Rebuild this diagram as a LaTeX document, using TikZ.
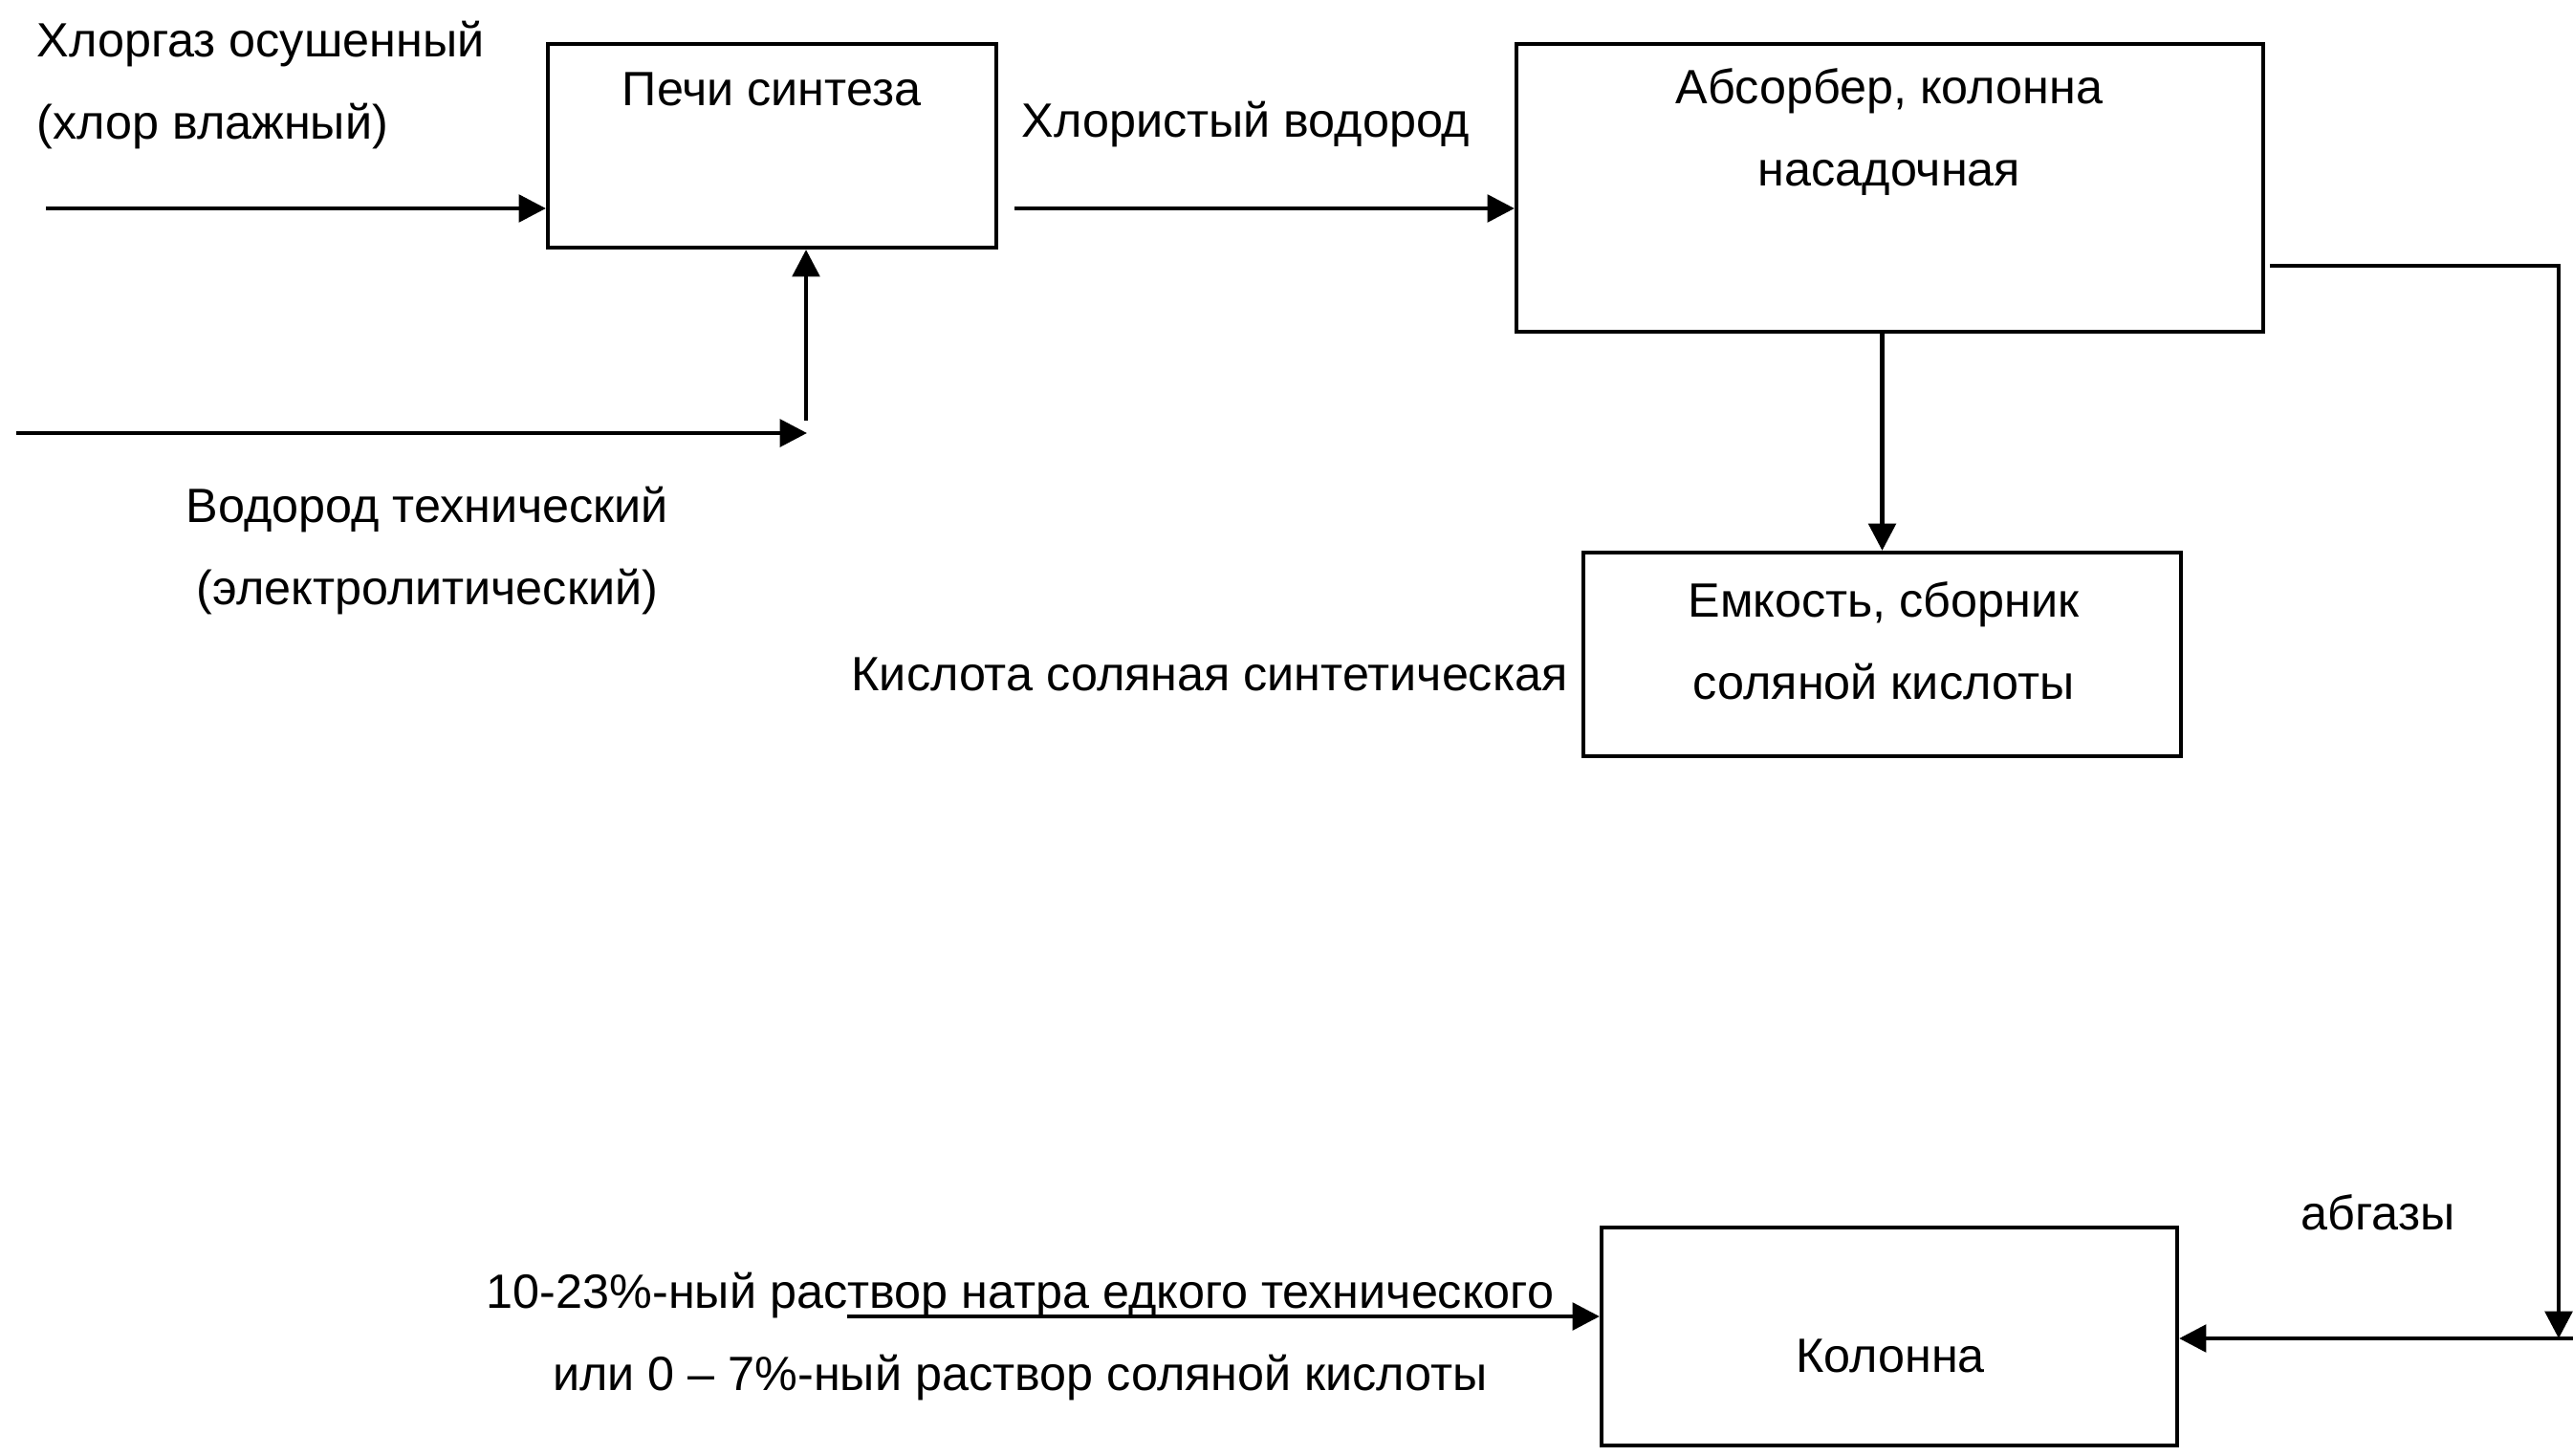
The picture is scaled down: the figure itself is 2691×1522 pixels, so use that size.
\documentclass[tikz,border=0pt]{standalone}
\usepackage{fontspec}
\setmainfont{Liberation Sans}
\usetikzlibrary{arrows.meta,fit}
\begin{document}
\begin{tikzpicture}[x=0.3pt,y=-0.3pt,
  box/.style={draw,line width=1.25pt,inner sep=0pt},
  lbl/.style={font=\fontsize{15.1}{25.8}\selectfont,inner sep=0pt},
  arr/.style={line width=1.4pt,-{Triangle[length=8.5pt,width=8.5pt]}},
  ln/.style={line width=1.4pt}]
\useasboundingbox[fill=white] (0,0) rectangle (2691,1522);
% boxes
\node[box,fit={(573,46) (1042,259)}] (pechi) {};
\node[box,fit={(1586,46) (2367,347)}] (abs) {};
\node[box,fit={(1656,578) (2281,791)}] (emk) {};
\node[box,fit={(1675,1284) (2277,1512)}] (kol) {};
% box texts
\node[lbl] (pechiT) at (807,93) {Печи синтеза};
\node[lbl,align=center] (absT) at (1976,138) {Абсорбер, колонна\\насадочная};
\node[lbl,align=center] (emkT) at (1970,670) {Емкость, сборник\\соляной кислоты};
\node[lbl] (kolT) at (1977,1418) {Колонна};
% free texts
\node[lbl,align=left,anchor=west] (chlorT) at (38,89) {Хлоргаз осушенный\\(хлор влажный)};
\node[lbl,align=center] (hydT) at (447,576) {Водород технический\\(электролитический)};
\node[lbl] (hclT) at (1303,130) {Хлористый водород};
\node[lbl] (acidT) at (1265,705) {Кислота соляная синтетическая};
\node[lbl,align=center] (naohT) at (1067,1398) {10-23\%-ный раствор натра едкого технического\\или 0 – 7\%-ный раствор соляной кислоты};
\node[lbl] (abgT) at (2487,1268) {абгазы};
% connector end points
\coordinate (c1) at (48,218);
\coordinate (h1) at (17,453);
\coordinate (h2) at (844,453);
\coordinate (hv) at (843,440);
\coordinate (k1) at (1061,218);
\coordinate (a1) at (2374,278);
\coordinate (a2) at (2676,278);
\coordinate (a3) at (2676,1400);
\coordinate (a4) at (2691,1400);
\coordinate (n1) at (886,1377);
% connectors
\draw[arr] (c1) -- (c1 -| pechi.west);
\draw[arr] (h1) -- (h2);
\draw[arr] (hv) -- (hv |- pechi.south);
\draw[arr] (k1) -- (k1 -| abs.west);
\draw[arr] (emk.north |- abs.south) -- (emk.north);
\draw[arr] (a1) -- (a2) -- (a3);
\draw[arr] (a4) -- (a4 -| kol.east);
\draw[arr] (n1) -- (n1 -| kol.west);
\end{tikzpicture}
\end{document}
